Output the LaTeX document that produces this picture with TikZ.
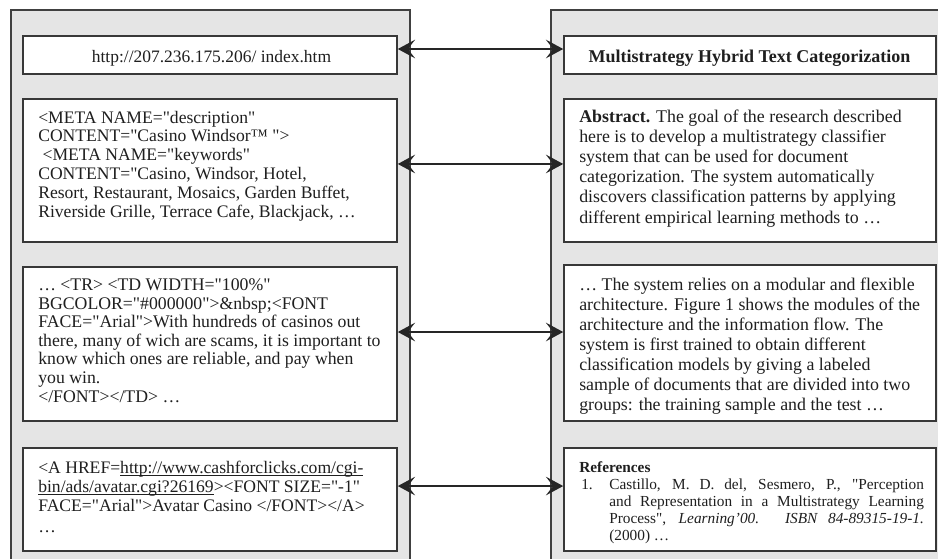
\documentclass[tikz,border=0pt]{standalone}
\usepackage{fontspec}
\setmainfont{Liberation Serif}[Ligatures=TeXOff]
\usetikzlibrary{arrows.meta,fit}
\newcommand\ulx[1]{\setbox0\hbox{#1}\rlap{\rule[-1.7pt]{\wd0}{0.55pt}}\box0}
\tikzset{
  panel/.style={fill=gray!20, draw=black!75, line width=1.3pt},
  box/.style={fill=white, draw=black!78, line width=1.2pt, inner sep=0pt, fit={#1}},
  txt/.style={anchor=base west, align=left, inner sep=0pt, text=black!88},
  ctxt/.style={anchor=base, inner sep=0pt, text=black!88},
  link/.style={{Stealth[length=13pt,width=14pt,inset=5.5pt]}-{Stealth[length=13pt,width=14pt,inset=5.5pt]}, line width=1.1pt, draw=black!85},
}
\begin{document}
\begin{tikzpicture}[x=0.75pt, y=-0.75pt]
\useasboundingbox (0,0) rectangle (938,558);
\clip (0,0) rectangle (938,558);
\fill[white] (0,0) rectangle (938,558);
% panels
\draw[panel] (11,10) rectangle (410,585);
\draw[panel] (551,10) rectangle (960,585);
% left boxes
\node[box={(23,36)(397,74)}] (L1) {};
\node[box={(23,99)(397,242)}] (L2) {};
\node[box={(23,267)(397,421)}] (L3) {};
\node[box={(23,448)(397,551)}] (L4) {};
% right boxes
\node[box={(564,36)(936,74)}] (R1) {};
\node[box={(564,99)(936,242)}] (R2) {};
\node[box={(564,265)(936,421)}] (R3) {};
\node[box={(564,448)(936,551)}] (R4) {};
% texts left (anchored at the baseline of the last line)
\node[ctxt, font=\fontsize{13.1}{14}\selectfont] (t1) at (211.5,62) {http://207.236.175.206/ index.htm};
\node[txt, font=\fontsize{13.2}{14.1}\selectfont] (t2) at (38,217) {<META NAME="description"\\
CONTENT="Casino Windsor™ ">\\
\ <META NAME="keywords"\\
CONTENT="Casino, Windsor, Hotel,\\
Resort, Restaurant, Mosaics, Garden Buffet,\\
Riverside Grille, Terrace Cafe, Blackjack, …};
\node[txt, font=\fontsize{13.3}{13.95}\selectfont] (t3) at (38,402) {… <TR> <TD WIDTH="100\%"\\
BGCOLOR="\#000000">\&nbsp;<FONT\\
FACE="Arial">With hundreds of casinos out\\
there, many of wich are scams, it is important to\\
know which ones are reliable, and pay when\\
you win.\\
</FONT></TD> …};
\node[txt, font=\fontsize{13.2}{14.25}\selectfont] (t4) at (38,532) {<A HREF=\ulx{http://www.cashforclicks.com/cgi-}\\
\ulx{bin/ads/avatar.cgi?26169}><FONT SIZE="-1"\\
FACE="Arial">Avatar Casino </FONT></A>\\[1.5pt]
…};
% texts right
\node[ctxt, font=\fontsize{13.5}{14}\selectfont\bfseries] (t5) at (749.5,62) {Multistrategy Hybrid Text Categorization};
\node[txt, font=\fontsize{13.4}{15.15}\selectfont] (t6) at (579,223) {\textbf{Abstract.} The goal of the research described\\
here is to develop a multistrategy classifier\\
system that can be used for document\\
categorization. The system automatically\\
discovers classification patterns by applying\\
different empirical learning methods to …};
\node[txt, font=\fontsize{13.4}{15}\selectfont] (t7) at (579,410) {… The system relies on a modular and flexible\\
architecture. Figure 1 shows the modules of the\\
architecture and the information flow. The\\
system is first trained to obtain different\\
classification models by giving a labeled\\
sample of documents that are divided into two\\
groups: the training sample and the test …};
\node[txt, font=\fontsize{11.5}{12.7}\selectfont\bfseries] (t8) at (579,472) {References};
\node[txt, font=\fontsize{11.5}{12.7}\selectfont] (t9) at (581,489) {1.};
\node[txt, font=\fontsize{11.5}{12.7}\selectfont] (t10) at (609,540) {\makebox[236pt][s]{Castillo, M. D. del, Sesmero, P., "Perception}\\
\makebox[236pt][s]{and Representation in a Multistrategy Learning}\\
\makebox[236pt][s]{Process", \textit{Learning’00. ISBN 84-89315-19-1.}}\\
(2000) …};
% connectors
\draw[link] ([yshift=4.5pt]L1.east) -- ([yshift=4.5pt]R1.west);
\draw[link] ([yshift=4.9pt]L2.east) -- ([yshift=4.9pt]R2.west);
\draw[link] ([yshift=9pt]L3.east) -- ([yshift=9pt]L3.east -| R3.west);
\draw[link] ([yshift=10.1pt]L4.east) -- ([yshift=10.1pt]R4.west);
\end{tikzpicture}
\end{document}
